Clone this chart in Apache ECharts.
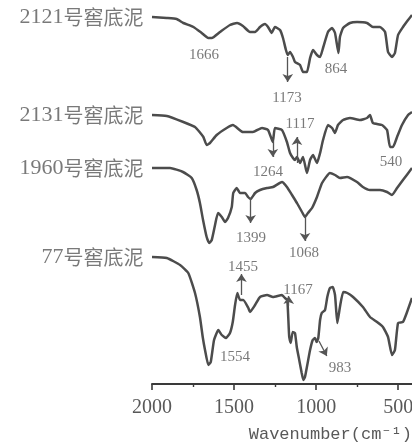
<!DOCTYPE html>
<html>
<head>
<meta charset="utf-8">
<script src="https://cdn.jsdelivr.net/npm/echarts@6/dist/echarts.min.js"></script>
<style>
  html, body { margin: 0; padding: 0; background: #fff; }
  #chart { width: 412px; height: 446px; }
</style>
</head>
<body>
<div id="chart"></div>
<script>
// FTIR spectra of pit mud samples, stacked with vertical offsets
// x: wavenumber (cm-1), y: offset transmittance (a.u.)
const sampleNames = ['2121号窖底泥', '2131号窖底泥', '1960号窖底泥', '77号窖底泥'];

const spec2121 = [
  [2000,367],[1910,366],[1850,365],[1809,361],[1748,357],[1697,351],[1657,346],[1636,346],
  [1586,352],[1525,359],[1482,361],[1446,358],[1403,352],[1372,352],[1342,357],[1312,360],
  [1293,357],[1271,351],[1251,357],[1220,354],[1202,346],[1184,334],[1173,329],[1159,332],
  [1141,327],[1129,322],[1098,319],[1080,312],[1056,312],[1037,326],[1019,334],[995,329],
  [976,327],[958,336],[928,352],[903,356],[885,351],[864,331],[855,347],[836,356],
  [794,361],[751,362],[690,361],[654,357],[611,357],[580,352],[562,332],[538,327],
  [520,331],[501,349],[471,357],[440,364],[416,369]
];

const spec2131 = [
  [2000,269],[1910,268],[1809,262],[1738,257],[1687,247],[1667,239],[1647,241],[1606,249],
  [1545,256],[1507,259],[1446,252],[1385,252],[1330,256],[1293,254],[1264,242],[1251,256],
  [1208,254],[1178,242],[1159,231],[1141,226],[1129,224],[1117,227],[1098,221],[1080,227],
  [1056,211],[1037,224],[1019,229],[995,221],[976,231],[958,244],[928,259],[903,256],
  [885,251],[867,259],[836,264],[794,266],[733,264],[690,266],[672,269],[654,261],
  [599,259],[568,254],[550,237],[532,237],[507,247],[477,259],[440,269],[416,272]
];

const spec1960 = [
  [2000,216],[1890,216],[1811,212],[1758,206],[1728,194],[1708,181],[1689,164],[1667,147],
  [1651,141],[1636,144],[1616,159],[1598,171],[1575,167],[1555,162],[1537,166],[1514,177],
  [1505,191],[1484,196],[1464,191],[1433,191],[1415,187],[1399,185],[1372,191],[1342,194],
  [1299,196],[1263,197],[1208,202],[1178,197],[1147,189],[1117,181],[1086,172],[1068,167],
  [1050,171],[1025,176],[995,187],[964,201],[916,211],[885,209],[855,206],[812,207],
  [751,202],[715,197],[672,194],[611,194],[568,192],[538,189],[507,196],[471,204],[416,216]
];

const spec77 = [
  [2000,127],[1910,126],[1829,119],[1779,111],[1738,91],[1708,67],[1691,47],[1677,34],
  [1657,19],[1642,22],[1622,44],[1596,54],[1575,49],[1549,46],[1525,51],[1508,62],
  [1494,79],[1480,91],[1464,84],[1444,84],[1413,76],[1403,72],[1372,79],[1342,87],
  [1299,89],[1263,87],[1208,89],[1190,86],[1176,84],[1170,67],[1164,47],[1155,41],
  [1143,52],[1129,51],[1118,37],[1103,24],[1088,11],[1078,4],[1068,7],[1054,19],
  [1037,34],[1021,44],[1007,46],[997,42],[987,46],[976,64],[966,71],[946,74],
  [932,87],[916,96],[899,97],[885,89],[871,61],[855,77],[835,92],[810,91],
  [775,87],[715,77],[672,67],[629,62],[593,57],[562,47],[538,29],[520,34],
  [501,61],[471,62],[446,72],[416,86]
];

const spectra = [spec2121, spec2131, spec1960, spec77];

// band annotations: text, wavenumber of the text centre, y of the text centre
const bandLabels = [
  ['1666', 1683, 329], ['1173', 1178, 286], ['864', 879, 315],
  ['1264', 1293, 212], ['1117', 1098, 260], ['540', 544, 222],
  ['1399', 1397, 146], ['1068', 1074, 131],
  ['1455', 1446, 117], ['1167', 1110, 94], ['1554', 1494, 27], ['983', 855, 16]
];

// arrows: [start wavenumber, start y, end wavenumber, end y]
const bandArrows = [
  [1173, 327, 1173, 302],
  [1264, 243, 1264, 227],
  [1117, 221, 1117, 247],
  [1399, 186, 1399, 161],
  [1068, 167, 1068, 143],
  [1455, 89, 1455, 110],
  [1167, 78, 1167, 88],
  [983, 43, 935, 28]
];

const majorTicks = [2000, 1500, 1000, 500];
const minorTicks = [1750, 1250, 750];

const inkColor = '#4c4c4c';
const textColor = '#585858';

const chart = echarts.init(document.getElementById('chart'), null, { renderer: 'canvas' });

const lineSeries = spectra.map((data, i) => ({
  name: sampleNames[i],
  type: 'line',
  data: data,
  showSymbol: false,
  smooth: 0.15,
  silent: true,
  clip: false,
  lineStyle: { color: inkColor, width: 2.5 },
  z: 3
}));

// sample names, written just left of where each trace starts
const nameSeries = {
  type: 'scatter',
  silent: true,
  clip: false,
  symbol: 'circle',
  symbolSize: 1,
  itemStyle: { color: 'rgba(0,0,0,0)' },
  data: spectra.map((d, i) => ({ name: sampleNames[i], value: d[0] })),
  label: {
    show: true,
    position: 'left',
    distance: 8,
    formatter: (p) => {
      const m = p.name.match(/^(\d+)(.*)$/);
      return '{n|' + m[1] + '}{c|' + m[2] + '}';
    },
    rich: {
      n: { fontFamily: 'Liberation Serif', fontSize: 22, color: textColor },
      c: { fontFamily: 'Noto Sans CJK SC', fontSize: 20, color: textColor }
    }
  },
  z: 4
};

// band positions with their pointer arrows
const bandSeries = {
  type: 'scatter',
  silent: true,
  clip: false,
  symbol: 'circle',
  symbolSize: 1,
  itemStyle: { color: 'rgba(0,0,0,0)' },
  data: bandLabels.map(b => ({ name: b[0], value: [b[1], b[2]] })),
  label: {
    show: true,
    position: 'inside',
    formatter: '{b}',
    fontFamily: 'Liberation Serif',
    fontSize: 15,
    color: textColor
  },
  markLine: {
    silent: true,
    animation: false,
    symbol: ['none', 'arrow'],
    symbolSize: 8,
    label: { show: false },
    lineStyle: { color: '#555', width: 1.3, type: 'solid' },
    data: bandArrows.map(a => [{ coord: [a[0], a[1]] }, { coord: [a[2], a[3]] }])
  },
  z: 4
};

const axisCommon = {
  type: 'value',
  inverse: true,
  min: 416,
  max: 2000,
  splitLine: { show: false }
};

chart.setOption({
  animation: false,
  backgroundColor: '#fff',
  grid: { left: 152, right: 0, top: 0, bottom: 62, containLabel: false, outerBoundsMode: 'none' },
  xAxis: [
    Object.assign({}, axisCommon, {
      axisLine: { show: true, lineStyle: { color: '#3a3a3a', width: 2 } },
      axisTick: { show: true, inside: false, length: 6, customValues: majorTicks,
                  lineStyle: { color: '#3a3a3a', width: 1.6 } },
      axisLabel: { show: true, customValues: majorTicks, margin: 14,
                   formatter: (v) => String(v),
                   fontFamily: 'Liberation Serif', fontSize: 20, color: textColor }
    }),
    Object.assign({}, axisCommon, {
      position: 'bottom',
      offset: 0,
      axisLine: { show: false },
      axisTick: { show: true, inside: false, length: 3, customValues: minorTicks,
                  lineStyle: { color: '#3a3a3a', width: 1.4 } },
      axisLabel: { show: false }
    })
  ],
  yAxis: { type: 'value', min: 0, max: 384, show: false },
  graphic: [{
    type: 'text',
    right: 0,
    bottom: 3,
    style: {
      text: 'Wavenumber(cm⁻¹)',
      font: '17px "Liberation Mono", "DejaVu Sans Mono", monospace',
      fill: textColor
    }
  }],
  series: [...lineSeries, nameSeries, bandSeries]
});
</script>
</body>
</html>
